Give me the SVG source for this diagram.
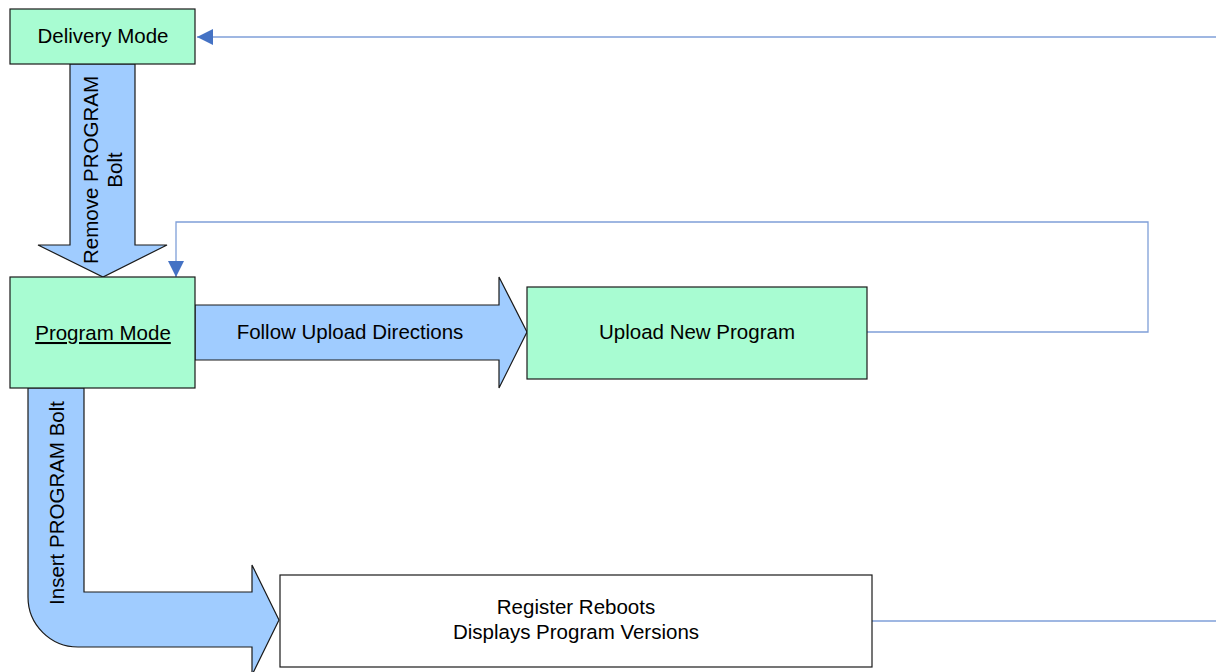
<svg xmlns="http://www.w3.org/2000/svg" width="1216" height="672" viewBox="0 0 1216 672">
  <defs>
    <style>
      .box { fill: #a8fcd2; stroke: #1a1a1a; stroke-width: 1.2; }
      .plain { fill: #ffffff; stroke: #1a1a1a; stroke-width: 1.2; }
      .flow { fill: #a0ccff; stroke: #1a1a1a; stroke-width: 1.2; stroke-linejoin: miter; }
      .label { font-family: "Liberation Sans", Arial, sans-serif; font-size: 20.5px; fill: #000; text-anchor: middle; }
      .link { fill: none; stroke: #7f9fd8; stroke-width: 1.3; }
    </style>
    <marker id="tip" markerWidth="16" markerHeight="16" refX="16" refY="8" orient="auto" markerUnits="userSpaceOnUse" viewBox="0 0 16 16">
      <path d="M0,0 L16,8 L0,16 Z" fill="#4472c4"/>
    </marker>
  </defs>

  <rect width="1216" height="672" fill="#ffffff"/>

  <!-- thin feedback connectors -->
  <g id="connectors">
    <path class="link" d="M1216,37 L197,37" marker-end="url(#tip)"/>
    <path class="link" d="M867,332 L1148,332 L1148,222 L176,222 L176,277" marker-end="url(#tip)"/>
    <path class="link" d="M872,621 L1216,621"/>
  </g>

  <!-- block arrows -->
  <g id="arrow-remove">
    <path class="flow" d="M70,64 L135,64 L135,245 L167,245 L103,277 L38,245 L70,245 Z"/>
    <text class="label" transform="translate(98,170) rotate(-90)">Remove PROGRAM</text>
    <text class="label" transform="translate(122,170) rotate(-90)">Bolt</text>
  </g>

  <g id="arrow-follow">
    <path class="flow" d="M195,305 L499,305 L499,277 L527,332 L499,388 L499,360 L195,360 Z"/>
    <text class="label" x="350" y="339">Follow Upload Directions</text>
  </g>

  <g id="arrow-insert">
    <path class="flow" d="M28,388 L84,388 L84,592 L252,592 L252,565 L279,620 L252,675 L252,647 L78,647 A50,50 0 0 1 28,597 Z"/>
    <text class="label" transform="translate(64,503) rotate(-90)">Insert PROGRAM Bolt</text>
  </g>

  <!-- nodes -->
  <g id="delivery-mode">
    <rect class="box" x="10" y="9" width="185" height="55"/>
    <text class="label" x="103" y="43">Delivery Mode</text>
  </g>

  <g id="program-mode">
    <rect class="box" x="10" y="277" width="185" height="111"/>
    <text class="label" x="103" y="340" text-decoration="underline">Program Mode</text>
  </g>

  <g id="upload-new-program">
    <rect class="box" x="527" y="287" width="340" height="92"/>
    <text class="label" x="697" y="339">Upload New Program</text>
  </g>

  <g id="register-reboots">
    <rect class="plain" x="280" y="575" width="592" height="92"/>
    <text class="label" x="576" y="614">Register Reboots</text>
    <text class="label" x="576" y="639">Displays Program Versions</text>
  </g>
</svg>
